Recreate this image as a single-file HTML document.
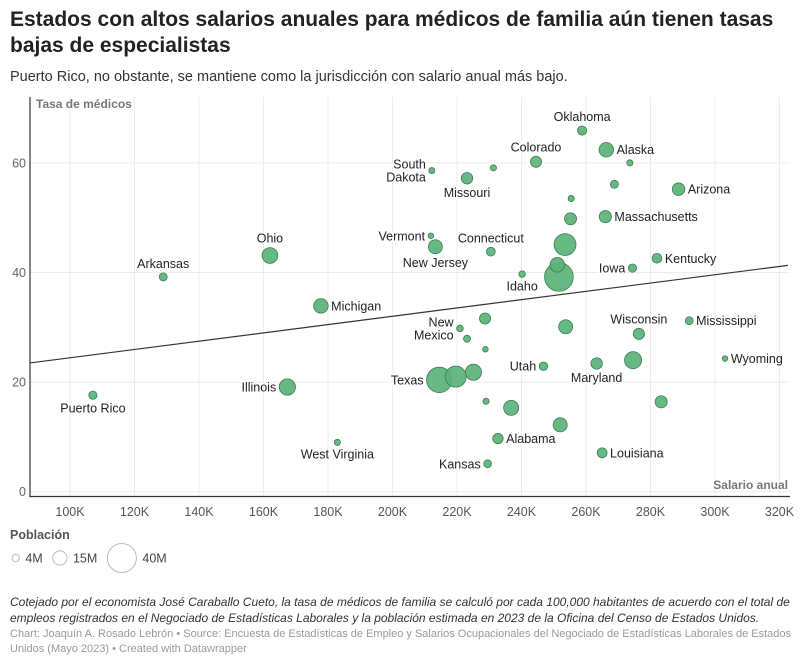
<!DOCTYPE html>
<html><head><meta charset="utf-8">
<style>
body{margin:0;background:#fff;font-family:"Liberation Sans",sans-serif;width:804px;height:665px;overflow:hidden;position:relative}
.t{position:absolute;left:10px;top:7px;font-size:21px;font-weight:bold;color:#222;line-height:26px;width:794px}
.s{position:absolute;left:10px;top:69px;font-size:14.5px;color:#333}
.n{position:absolute;left:10px;top:595px;font-size:12px;font-style:italic;color:#333;line-height:15.5px;width:790px}
.c{position:absolute;left:10px;top:627px;font-size:11px;color:#999;line-height:15px;width:794px}
</style></head><body>
<div class="t">Estados con altos salarios anuales para médicos de familia aún tienen tasas bajas de especialistas</div>
<div class="s">Puerto Rico, no obstante, se mantiene como la jurisdicción con salario anual más bajo.</div>
<svg id="ch" width="804" height="590" style="position:absolute;left:0;top:0"></svg>
<div class="n">Cotejado por el economista José Caraballo Cueto, la tasa de médicos de familia se calculó por cada 100,000 habitantes de acuerdo con el total de empleos registrados en el Negociado de Estadísticas Laborales y la población estimada en 2023 de la Oficina del Censo de Estados Unidos.</div>
<div class="c">Chart: Joaquín A. Rosado Lebrón • Source: Encuesta de Estadísticas de Empleo y Salarios Ocupacionales del Negociado de Estadísticas Laborales de Estados Unidos (Mayo 2023) • Created with Datawrapper</div>
<script>
const salaries=[107.1,128.9,162,177.8,167.4,182.9,258.8,266.3,273.6,244.5,212.2,231.3,223.1,268.8,288.7,255.4,255.2,266,211.9,213.3,230.5,253.5,251.1,251.6,240.2,274.4,282,228.7,220.9,223.1,228.8,253.7,276.4,292,303.1,246.8,263.3,274.6,214.5,219.6,225.1,229,236.8,252,283.3,232.7,265,229.5];
const rates=[17.6,39.2,43.1,33.9,19.1,9.0,65.9,62.4,60.0,60.2,58.6,59.1,57.2,56.1,55.2,53.5,49.8,50.2,46.7,44.7,43.8,45.1,41.4,39.2,39.7,40.8,42.6,31.6,29.8,27.9,26.0,30.1,28.8,31.2,24.3,22.9,23.4,24.0,20.4,21.0,21.8,16.5,15.3,12.2,16.4,9.7,7.1,5.1];
const pops=[3.2,3.0,11.8,10.0,12.5,1.8,4.0,10.0,1.8,5.8,1.7,1.8,6.2,3.0,7.4,1.8,6.9,7.0,1.5,9.3,3.6,22.6,10.0,39.0,2.0,3.2,4.5,5.8,2.1,2.3,1.5,9.3,5.9,2.9,1.5,3.4,6.2,13.8,30.5,21.0,12.2,1.8,10.7,9.3,6.9,5.1,4.6,2.9];
const names=["Puerto Rico","Arkansas","Ohio","Michigan","Illinois","West Virginia","Oklahoma","Alaska","","Colorado","South|Dakota","","Missouri","","Arizona","","","Massachusetts","Vermont","New Jersey","Connecticut","","","","Idaho","Iowa","Kentucky","","New|Mexico","","","","Wisconsin","Mississippi","Wyoming","Utah","Maryland","","Texas","","","","","","","Alabama","Louisiana","Kansas"];
const labelPos=["b","t","t","r","l","b","t","r","","t","l","","b","","r","","","r","l","b","t","","","","b","l","r","","l","","","","t","r","r","l","b","","l","","","","","","","r","r","l"];
const xTicks=[100,120,140,160,180,200,220,240,260,280,300,320];
const yTicks=[0,20,40,60];
const trendStart=[87.6,23.5], trendEnd=[322.6,41.3];
const legendPops=[4,15,40];

const NS="http://www.w3.org/2000/svg";
const svg=document.getElementById('ch');
const X=v=>70+(v-100)*3.225;
const Y=v=>491.7-v*5.48;
const R=p=>2.3*Math.sqrt(p);
function mk(tag,attrs,parent){const e=document.createElementNS(NS,tag);for(const k in attrs)e.setAttribute(k,attrs[k]);(parent||svg).appendChild(e);return e;}
xTicks.forEach(t=>{
  const l=mk('line',{x1:X(t),x2:X(t),y1:97,y2:496,stroke:'#ececec'});
  
  
  const tx=mk('text',{x:X(t),y:516,'text-anchor':'middle','font-size':12.5,fill:'#555'});
  tx.textContent=t+'K';
  
  
});
yTicks.forEach(t=>{
  const l=mk('line',{x1:30,x2:790,y1:Y(t),y2:Y(t),stroke:'#ececec'});
  
  
  const tx=mk('text',{x:26,y:Y(t)+4.5,'text-anchor':'end','font-size':12.5,fill:'#666'});
  tx.textContent=t;
  
  
});
const ax=mk('path',{d:'M30 97V496.5H790',fill:'none',stroke:'#333','stroke-width':1.2});


const yt=mk('text',{x:36,y:108,'font-size':12,'font-weight':'bold',fill:'#777'});yt.textContent='Tasa de médicos';


const xt=mk('text',{x:788,y:489,'text-anchor':'end','font-size':12,'font-weight':'bold',fill:'#777'});xt.textContent='Salario anual';


const idx=pops.map((p,i)=>i).sort((a,b)=>pops[b]-pops[a]);
idx.forEach(i=>{
  const c=mk('circle',{cx:X(salaries[i]),cy:Y(rates[i]),r:R(pops[i]),fill:'#5bb27a','fill-opacity':0.92,stroke:'#3d7d53','stroke-width':0.8});
  
  
});
const tl=mk('line',{x1:X(trendStart[0]),y1:Y(trendStart[1]),x2:X(trendEnd[0]),y2:Y(trendEnd[1]),stroke:'#333','stroke-width':1.2});


names.forEach((nm,i)=>{
  if(!nm)return;
  const cx=X(salaries[i]),cy=Y(rates[i]),r=R(pops[i]),p=labelPos[i];
  const lines=nm.split('|');
  let x=cx,y=cy,anchor='middle';
  if(p==='t'){y=cy-r-5-(lines.length-1)*13;}
  else if(p==='b'){y=cy+r+13;}
  else if(p==='r'){x=cx+r+3;anchor='start';y=cy+4.5-(lines.length-1)*6.5;}
  else {x=cx-r-3;anchor='end';y=cy+4.5-(lines.length-1)*6.5;}
  const tx=mk('text',{x:x,y:y,'text-anchor':anchor,'font-size':12.5,fill:'#222',stroke:'#fff','stroke-width':3,'paint-order':'stroke'});
  lines.forEach((ln,k)=>{const ts=mk('tspan',{x:x,dy:k?13:0},tx);ts.textContent=ln;});
  
  
});
const lg=mk('text',{x:10,y:539,'font-size':12.5,'font-weight':'bold',fill:'#555'});lg.textContent='Población';


let lx=12;
legendPops.forEach(p=>{
  const r=R(p)*(p===40?1:0.8);
  const c=mk('circle',{cx:lx+r,cy:558,r:r,fill:'none',stroke:'#bbb'});
  
  
  const t=mk('text',{x:lx+2*r+6,y:562.5,'font-size':12.5,fill:'#444'});t.textContent=p+'M';
  
  
  lx+=2*r+6+t.getComputedTextLength()+10;
});
</script>
</body></html>
